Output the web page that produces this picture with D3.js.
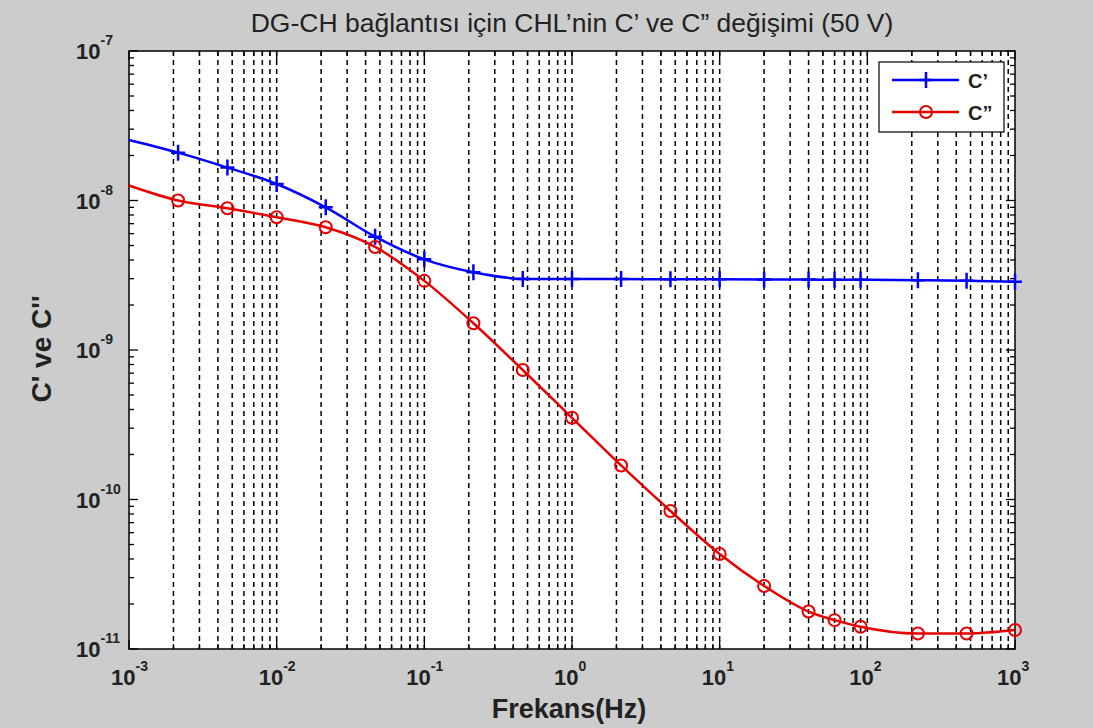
<!DOCTYPE html>
<html>
<head>
<meta charset="utf-8">
<script src="https://cdn.jsdelivr.net/npm/d3@7"></script>
<style>
  body { margin: 0; background: #cccccc; }
  svg { display: block; font-family: "Liberation Sans", Arial, sans-serif; }
</style>
</head>
<body>
<div id="chart"></div>
<script>
// data
var freq = [1e-3, 2.15e-3, 4.64e-3, 1e-2, 2.15e-2, 4.64e-2, 0.1, 0.215, 0.464, 1,
            2.15, 4.64, 10, 20, 40, 60, 90, 220, 470, 1000];
var cReal = [2.54e-8, 2.09e-8, 1.66e-8, 1.29e-8, 9.0e-9, 5.73e-9, 4.04e-9, 3.31e-9, 2.99e-9, 2.98e-9,
             2.98e-9, 2.97e-9, 2.97e-9, 2.96e-9, 2.96e-9, 2.95e-9, 2.95e-9, 2.93e-9, 2.91e-9, 2.86e-9];
var cImag = [1.26e-8, 1.0e-8, 8.87e-9, 7.73e-9, 6.62e-9, 4.89e-9, 2.9e-9, 1.51e-9, 7.35e-10, 3.52e-10,
             1.69e-10, 8.38e-11, 4.32e-11, 2.64e-11, 1.78e-11, 1.56e-11, 1.41e-11, 1.27e-11, 1.27e-11, 1.34e-11];
var seriesNames = ["C\u2019", "C\u201d"];
var xExp = [-3, -2, -1, 0, 1, 2, 3];
var yExp = [-11, -10, -9, -8, -7];
var titleText = "DG-CH ba\u011flant\u0131s\u0131 i\u00e7in CHL\u2019nin C\u2019 ve C\u201d de\u011fi\u015fimi (50 V)";

var width = 1093, height = 728;
var pLeft = 129, pRight = 1015, pTop = 51, pBottom = 649;

var svg = d3.select("#chart").append("svg")
    .attr("width", width)
    .attr("height", height);

svg.append("rect").attr("width", width).attr("height", height).attr("fill", "#cccccc");

var x = d3.scaleLog().domain([1e-3, 1e3]).range([pLeft, pRight]);
var y = d3.scaleLog().domain([1e-11, 1e-7]).range([pBottom, pTop]);

// plot area
svg.append("rect")
    .attr("x", pLeft).attr("y", pTop)
    .attr("width", pRight - pLeft).attr("height", pBottom - pTop)
    .attr("fill", "white");

var isMajor = function(v) { return Math.abs(Math.log10(v) - Math.round(Math.log10(v))) < 1e-9; };

// vertical dashed grid on every log tick
var xt = x.ticks();
svg.append("g").selectAll("line").data(xt.filter(function(v) { return v > 1e-3 && v < 1e3; }))
  .enter().append("line")
    .attr("x1", function(d) { return x(d); }).attr("x2", function(d) { return x(d); })
    .attr("y1", pTop).attr("y2", pBottom)
    .attr("stroke", "black").attr("stroke-width", 1.5)
    .attr("stroke-dasharray", "5,4");

// tick marks (inside, on all four sides)
var ticks = svg.append("g").attr("stroke", "black").attr("stroke-width", 1.3);
xt.forEach(function(v) {
    var len = isMajor(v) ? 9 : 5;
    ticks.append("line").attr("x1", x(v)).attr("x2", x(v)).attr("y1", pBottom).attr("y2", pBottom - len);
    ticks.append("line").attr("x1", x(v)).attr("x2", x(v)).attr("y1", pTop).attr("y2", pTop + len);
});
y.ticks().forEach(function(v) {
    var len = isMajor(v) ? 9 : 5;
    ticks.append("line").attr("y1", y(v)).attr("y2", y(v)).attr("x1", pLeft).attr("x2", pLeft + len);
    ticks.append("line").attr("y1", y(v)).attr("y2", y(v)).attr("x1", pRight).attr("x2", pRight - len);
});

svg.append("rect")
    .attr("x", pLeft).attr("y", pTop)
    .attr("width", pRight - pLeft).attr("height", pBottom - pTop)
    .attr("fill", "none").attr("stroke", "black").attr("stroke-width", 1.5);

// tick labels
xExp.forEach(function(e) {
    var t = svg.append("text")
        .attr("x", x(Math.pow(10, e)) - 18).attr("y", 685)
        .attr("font-size", 22).attr("font-weight", "bold").attr("fill", "#222");
    t.append("tspan").text("10");
    t.append("tspan").attr("dy", -14).attr("font-size", 14).text(e);
});
yExp.forEach(function(e) {
    var t = svg.append("text")
        .attr("x", 76).attr("y", y(Math.pow(10, e)) + 8)
        .attr("font-size", 22).attr("font-weight", "bold").attr("fill", "#222");
    t.append("tspan").text("10");
    t.append("tspan").attr("dy", -14).attr("font-size", 14).text(e);
});

// axis titles and chart title
svg.append("text")
    .attr("x", 572).attr("y", 32)
    .attr("text-anchor", "middle")
    .attr("font-size", 26.5).attr("fill", "#222")
    .text(titleText);

svg.append("text")
    .attr("x", 569).attr("y", 718)
    .attr("text-anchor", "middle")
    .attr("font-size", 27).attr("font-weight", "bold").attr("fill", "#222")
    .text("Frekans(Hz)");

svg.append("text")
    .attr("transform", "translate(51,349) rotate(-90)")
    .attr("text-anchor", "middle")
    .attr("font-size", 28).attr("font-weight", "bold").attr("fill", "#222")
    .text("C' ve C''");

// series
var line = d3.line()
    .x(function(d) { return x(d[0]); })
    .y(function(d) { return y(d[1]); })
    .curve(d3.curveMonotoneX);

var realPts = freq.map(function(f, i) { return [f, cReal[i]]; });
var imagPts = freq.map(function(f, i) { return [f, cImag[i]]; });

svg.append("path").datum(realPts).attr("d", line)
    .attr("fill", "none").attr("stroke", "#0000ff").attr("stroke-width", 2.5);
svg.append("path").datum(imagPts).attr("d", line)
    .attr("fill", "none").attr("stroke", "#e60000").attr("stroke-width", 2.5);

var plusPath = "M-7,0H7M0,-8V8";

svg.append("g").selectAll("path").data(realPts.slice(1)).enter().append("path")
    .attr("transform", function(d) { return "translate(" + x(d[0]) + "," + y(d[1]) + ")"; })
    .attr("d", plusPath)
    .attr("stroke", "#0000ff").attr("stroke-width", 2.5).attr("fill", "none");

svg.append("g").selectAll("circle").data(imagPts.slice(1)).enter().append("circle")
    .attr("cx", function(d) { return x(d[0]); })
    .attr("cy", function(d) { return y(d[1]); })
    .attr("r", 6)
    .attr("stroke", "#e60000").attr("stroke-width", 2).attr("fill", "none");

// legend
var lg = svg.append("g");
lg.append("rect").attr("x", 879).attr("y", 62).attr("width", 125).attr("height", 70)
    .attr("fill", "white").attr("stroke", "black").attr("stroke-width", 1.2);
lg.append("line").attr("x1", 892).attr("x2", 959).attr("y1", 80).attr("y2", 80)
    .attr("stroke", "#0000ff").attr("stroke-width", 2.5);
lg.append("path").attr("transform", "translate(926,80)").attr("d", plusPath)
    .attr("stroke", "#0000ff").attr("stroke-width", 2.5);
lg.append("line").attr("x1", 892).attr("x2", 959).attr("y1", 112).attr("y2", 112)
    .attr("stroke", "#e60000").attr("stroke-width", 2.5);
lg.append("circle").attr("cx", 926).attr("cy", 112).attr("r", 6)
    .attr("stroke", "#e60000").attr("stroke-width", 2).attr("fill", "none");
seriesNames.forEach(function(n, i) {
    lg.append("text").attr("x", 968).attr("y", 88 + i * 32)
        .attr("font-size", 20).attr("font-weight", "bold").attr("fill", "#222")
        .text(n);
});
</script>
</body>
</html>
